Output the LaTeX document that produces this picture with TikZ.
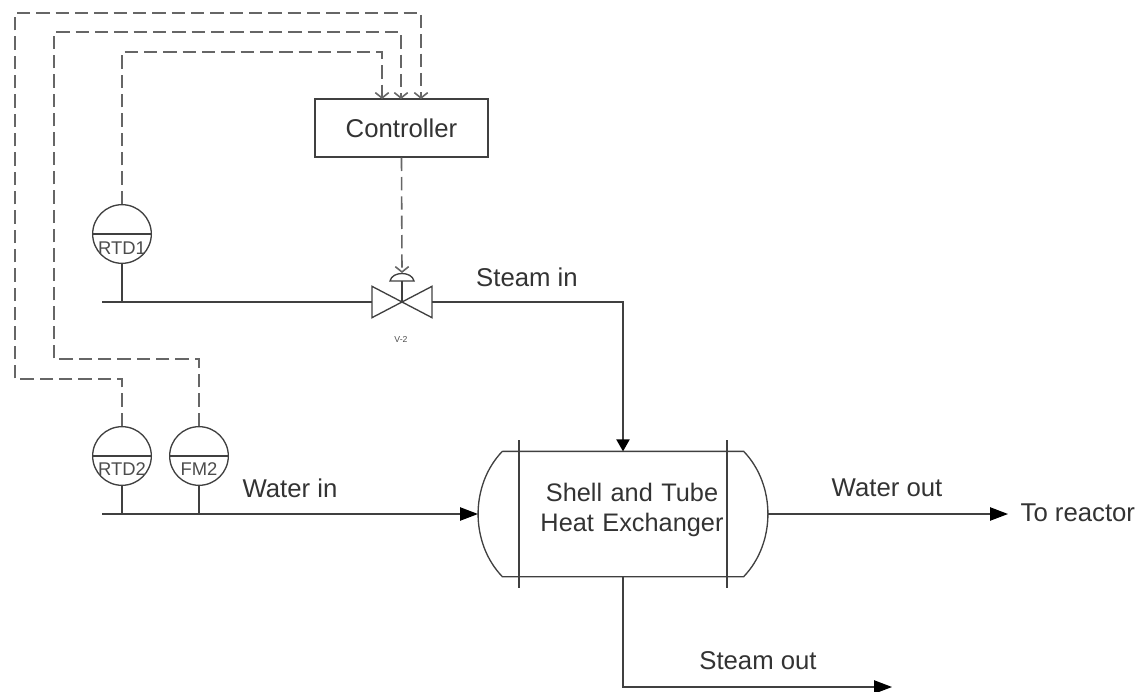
\documentclass[tikz,border=0pt]{standalone}
\usepackage{fontspec}
\setmainfont{Liberation Sans}
\usepackage{tikz}
\usetikzlibrary{arrows.meta}

\begin{document}
\begin{tikzpicture}[x=0.75pt,y=-0.75pt,line width=1pt,draw=black!75,
    >={Triangle[length=13.5pt,width=10pt,black]},
    sensor/.style={circle,draw,inner sep=0pt,minimum size=44pt},
    sensortext/.style={inner sep=0pt,text=black!70,font=\fontsize{13.8}{15}\selectfont},
    tag/.style={inner sep=0pt,text=black!80,font=\fontsize{19.3}{22}\selectfont},
    signal/.style={draw=black!60,line width=1.2pt,dash pattern=on 10pt off 4.5pt,-{Straight Barb[length=4pt,width=10pt]}}]
  \useasboundingbox (0,0) rectangle (1140,692);
  % instruments
  \node[sensor] (rtd1) at (122,234) {};
  \node[sensor] (rtd2) at (122,456) {};
  \node[sensor] (fm2) at (199,456) {};
  \draw (rtd1.west) -- (rtd1.east);
  \draw (rtd2.west) -- (rtd2.east);
  \draw (fm2.west) -- (fm2.east);
  \node[sensortext] (rtd1text) at (122,248) {RTD1};
  \node[sensortext] (rtd2text) at (122,469) {RTD2};
  \node[sensortext] (fm2text) at (199,469) {FM2};
  % controller and valve
  \node[draw,minimum width=129.75pt,minimum height=43.5pt,inner sep=0pt,tag] (ctrl) at (401.5,128) {Controller};
  \node[minimum width=44pt,minimum height=22.5pt,inner sep=0pt] (v2) at (402,302) {};
  \draw (v2.north west) -- (v2.south east) -- (v2.north east) -- (v2.south west) -- cycle;
  \coordinate (acttop) at (402,273);
  \coordinate (actbase) at (402,281);
  \draw (390,281) .. controls (392,271) and (412,271) .. (414,281) -- cycle;
  \draw (actbase) -- (v2.center);
  \node[inner sep=0pt,text=black!70,font=\fontsize{6.5}{8}\selectfont] (v2text) at (401,339) {V-2};
  % exchanger
  \node[minimum width=180pt,minimum height=93pt,inner sep=0pt] (hx) at (623,514) {};
  \coordinate (hxleft) at (478,514);
  \coordinate (hxright) at (768,514);
  \draw (hx.north west) -- (hx.north east) .. controls (776,485) and (776,543) .. (hx.south east)
    -- (hx.south west) .. controls (470,543) and (470,485) .. (hx.north west);
  \draw (519,440) -- (519,588);
  \draw (727,440) -- (727,588);
  \node[tag,align=center,text width=190pt,font=\fontsize{19}{22.5}\selectfont] (hxtext) at (632,510) {Shell and Tube\\Heat Exchanger};
  % pipes
  \coordinate (steamstart) at (102,302);
  \coordinate (waterstart) at (102,514);
  \coordinate (waterend) at (1008,514);
  \coordinate (steamend) at (892,687);
  \draw (steamstart) -- (v2.west);
  \draw (rtd1.south) -- (rtd1.south |- steamstart);
  \draw (rtd2.south) -- (rtd2.south |- waterstart);
  \draw (fm2.south) -- (fm2.south |- waterstart);
  \draw[->] (waterstart) -- (hxleft);
  \draw[-{Triangle[length=9pt,width=10pt,black]}] (v2.east) -| (hx.north);
  \draw[->] (hxright) -- (waterend);
  \draw[->] (hx.south) |- (steamend);
  % signals
  \draw[signal] (rtd1.north) -- (122,52) -- (382,52) -- (382,99);
  \draw[signal] (fm2.north) -- (199,359) -- (54,359) -- (54,32) -- (401,32) -- (401,99);
  \draw[signal] (rtd2.north) -- (122,379) -- (15,379) -- (15,13) -- (421,13) -- (421,99);
  \draw[signal] (ctrl.south) -- (acttop);
  % labels
  \node[tag] (steamin) at (527,277) {Steam in};
  \node[tag] (waterin) at (290,488) {Water in};
  \node[tag] (waterout) at (887,488) {Water out};
  \node[tag,anchor=west] (toreactor) at (1020,513) {To reactor};
  \node[tag] (steamout) at (758,661) {Steam out};
\end{tikzpicture}
\end{document}
